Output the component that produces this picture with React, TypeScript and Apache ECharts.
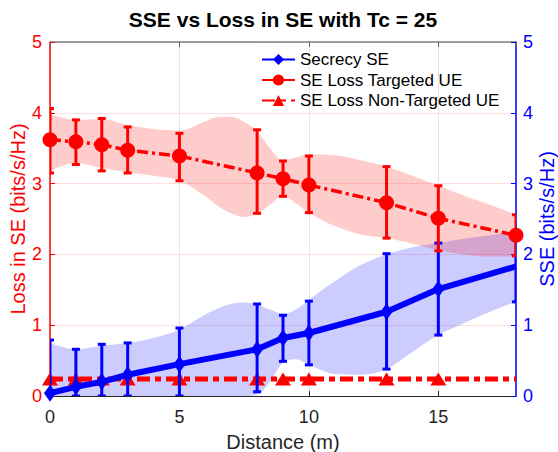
import React, { useEffect, useRef } from "react";
import * as echarts from "echarts";

// ---- data ----
const distance = [0, 1, 2, 3, 5, 8, 9, 10, 13, 15, 18];

const secrecySE = [0.04, 0.13, 0.2, 0.3, 0.45, 0.66, 0.82, 0.89, 1.19, 1.51, 1.83];
const secrecyErrLow = [0, 0, 0, 0, 0, 0.06, 0.49, 0.44, 0.38, 0.86, 1.33];
const secrecyErrHigh = [0.79, 0.66, 0.73, 0.75, 0.96, 1.3, 1.14, 1.34, 2.01, 2.16, 2.33];

const targetedLoss = [3.62, 3.59, 3.55, 3.47, 3.39, 3.15, 3.07, 2.98, 2.73, 2.51, 2.27];
const targetedErrLow = [3.15, 3.27, 3.18, 3.15, 3.04, 2.58, 2.82, 2.59, 2.23, 2.05, 1.98];
const targetedErrHigh = [4.06, 3.9, 3.92, 3.8, 3.71, 3.76, 3.32, 3.39, 3.24, 2.97, 2.56];

const nonTargetedLoss = [0.24, 0.24, 0.24, 0.24, 0.24, 0.24, 0.24, 0.24, 0.24, 0.24, 0.24];

// shaded band outlines (read along the distance axis)
const bandX = [0, 1, 2, 3, 4, 5, 6, 6.5, 7, 7.5, 8, 8.5, 9, 9.5, 10, 11, 12, 13, 14, 15, 16, 17, 18];
const redBandHigh = [3.98, 3.9, 3.91, 3.83, 3.77, 3.75, 3.88, 3.94, 3.94, 3.87, 3.74, 3.5, 3.33, 3.37, 3.41, 3.4, 3.33, 3.24, 3.11, 2.97, 2.83, 2.7, 2.56];
const redBandLow = [3.18, 3.29, 3.22, 3.16, 3.11, 3.04, 2.82, 2.68, 2.58, 2.53, 2.57, 2.7, 2.83, 2.72, 2.59, 2.4, 2.28, 2.23, 2.15, 2.06, 2.0, 1.97, 1.97];
const blueBandHigh = [0.75, 0.66, 0.71, 0.75, 0.82, 0.94, 1.15, 1.24, 1.3, 1.32, 1.29, 1.22, 1.16, 1.22, 1.36, 1.62, 1.85, 2.0, 2.1, 2.16, 2.22, 2.27, 2.32];
const blueBandLow = [0, 0, 0, 0, 0, 0, 0, 0, 0, 0, 0.02, 0.2, 0.47, 0.52, 0.44, 0.31, 0.3, 0.38, 0.62, 0.86, 1.03, 1.19, 1.33];

const yTicks = [0, 1, 2, 3, 4, 5];
const xTicks = [0, 5, 10, 15];

const FONT = "'Liberation Sans', Arial, Helvetica, sans-serif";
const RED = "#ff0000";
const BLUE = "#0000ff";

// band: stacked pair, value dimension put first so stacking acts on y
function bandSeries(id: string, low: number[], high: number[], color: string, yAxisIndex: number) {
  return [
    {
      type: "line",
      name: id + "-base",
      stack: id,
      yAxisIndex,
      data: bandX.map((x, i) => [low[i], x]),
      encode: { x: 1, y: 0 },
      symbol: "none",
      smooth: 0.35,
      lineStyle: { opacity: 0, width: 0 },
      silent: true,
      z: 1,
    },
    {
      type: "line",
      name: id + "-span",
      stack: id,
      yAxisIndex,
      data: bandX.map((x, i) => [high[i] - low[i], x]),
      encode: { x: 1, y: 0 },
      symbol: "none",
      smooth: 0.35,
      lineStyle: { opacity: 0, width: 0 },
      areaStyle: { color, opacity: 1 },
      silent: true,
      z: 1,
    },
  ];
}

function errorBars(id: string, lows: number[], highs: number[], color: string, yAxisIndex: number, z: number) {
  return {
    type: "custom",
    name: id,
    yAxisIndex,
    z,
    silent: true,
    clip: true,
    data: distance.map((x, i) => [x, lows[i], highs[i]]),
    encode: { x: 0, y: [1, 2] },
    renderItem: (params: any, api: any) => {
      const x = api.value(0);
      const lo = api.coord([x, api.value(1)]);
      const hi = api.coord([x, api.value(2)]);
      const hw = 4;
      const style = { stroke: color, lineWidth: 3 };
      return {
        type: "group",
        children: [
          { type: "line", shape: { x1: lo[0], y1: lo[1], x2: hi[0], y2: hi[1] }, style },
          { type: "line", shape: { x1: lo[0] - hw, y1: lo[1], x2: lo[0] + hw, y2: lo[1] }, style },
          { type: "line", shape: { x1: hi[0] - hw, y1: hi[1], x2: hi[0] + hw, y2: hi[1] }, style },
        ],
      };
    },
  };
}

export default function App() {
  const ref = useRef<HTMLDivElement>(null);

  useEffect(() => {
    if (!ref.current) return;
    document.body.style.margin = "0";
    const chart = echarts.init(ref.current, undefined, { renderer: "svg" });

    const option: any = {
      animation: false,
      backgroundColor: "#ffffff",
      textStyle: { fontFamily: FONT },
      graphic: [
        {
          type: "text",
          x: 283,
          y: 19,
          style: {
            text: "SSE vs Loss in SE with Tc = 25",
            fill: "#000000",
            fontSize: 21,
            fontWeight: "bold",
            fontFamily: FONT,
            align: "center",
            verticalAlign: "middle",
          },
        },
      ],
      legend: {
        orient: "vertical",
        left: 261,
        top: 51,
        padding: 0,
        itemWidth: 33,
        itemHeight: 14,
        itemGap: 3.5,
        textStyle: { fontSize: 17, color: "#000000", fontFamily: FONT, lineHeight: 17 },
        data: ["Secrecy SE", "SE Loss Targeted UE", "SE Loss Non-Targeted UE"],
      },
      grid: { left: 50, right: 42, top: 42, bottom: 56, containLabel: false, outerBoundsMode: "none" },
      xAxis: [
        {
          type: "value",
          position: "bottom",
          min: xTicks[0],
          max: 18,
          interval: 5,
          axisLine: { show: true, onZero: false, lineStyle: { color: "#262626", width: 1 } },
          axisTick: { show: true, inside: true, length: 5, lineStyle: { color: "#262626" } },
          axisLabel: { color: "#262626", fontSize: 18, margin: 12, showMaxLabel: false, fontFamily: FONT },
          splitLine: { show: true, lineStyle: { color: "#e6e6e6", width: 1 } },
          name: "Distance (m)",
          nameLocation: "middle",
          nameGap: 36,
          nameMoveOverlap: false,
          nameTextStyle: { color: "#262626", fontSize: 20, fontFamily: FONT },
        },
        {
          type: "value",
          position: "top",
          min: 0,
          max: 18,
          interval: 5,
          axisLine: { show: true, onZero: false, lineStyle: { color: "#808080", width: 1.5 } },
          axisTick: { show: true, inside: true, length: 5, lineStyle: { color: "#606060" } },
          axisLabel: { show: false },
          splitLine: { show: false },
        },
      ],
      yAxis: [
        {
          type: "value",
          position: "left",
          min: yTicks[0],
          max: yTicks[yTicks.length - 1],
          interval: 1,
          axisLine: { show: true, onZero: false, lineStyle: { color: RED, width: 1.5 } },
          axisTick: { show: true, inside: true, length: 5, lineStyle: { color: RED } },
          axisLabel: { color: RED, fontSize: 18, margin: 8, fontFamily: FONT },
          splitLine: { show: true, lineStyle: { color: "rgba(255,0,0,0.13)", width: 1 } },
          name: "Loss in SE (bits/s/Hz)",
          nameLocation: "middle",
          nameGap: 22,
          nameMoveOverlap: false,
          nameTextStyle: { color: RED, fontSize: 20, fontFamily: FONT },
        },
        {
          type: "value",
          position: "right",
          min: yTicks[0],
          max: yTicks[yTicks.length - 1],
          interval: 1,
          axisLine: { show: true, onZero: false, lineStyle: { color: BLUE, width: 1.5 } },
          axisTick: { show: true, inside: true, length: 5, lineStyle: { color: BLUE } },
          axisLabel: { color: BLUE, fontSize: 18, margin: 7, fontFamily: FONT },
          splitLine: { show: false },
          name: "SSE (bits/s/Hz)",
          nameLocation: "middle",
          nameGap: 21,
          nameMoveOverlap: false,
          nameTextStyle: { color: BLUE, fontSize: 20, fontFamily: FONT },
        },
      ],
      series: [
        ...bandSeries("blueBand", blueBandLow, blueBandHigh, "rgba(0,0,255,0.2)", 1),
        ...bandSeries("redBand", redBandLow, redBandHigh, "rgba(255,0,0,0.2)", 0),
        {
          type: "line",
          name: "SE Loss Non-Targeted UE",
          yAxisIndex: 0,
          z: 3,
          data: distance.map((x, i) =>
            i === distance.length - 1
              ? { value: [x, nonTargetedLoss[i]], symbol: "none" }
              : [x, nonTargetedLoss[i]]
          ),
          symbol: "triangle",
          symbolSize: [16, 13],
          itemStyle: { color: RED },
          lineStyle: { color: RED, width: 5, type: [13, 5, 6, 5] },
          clip: true,
        },
        errorBars("blueErr", secrecyErrLow, secrecyErrHigh, BLUE, 1, 4),
        {
          type: "line",
          name: "Secrecy SE",
          yAxisIndex: 1,
          z: 5,
          data: distance.map((x, i) =>
            i === distance.length - 1 ? { value: [x, secrecySE[i]], symbol: "none" } : [x, secrecySE[i]]
          ),
          symbol: "diamond",
          symbolSize: [12, 17],
          itemStyle: { color: BLUE },
          lineStyle: { color: BLUE, width: 6 },
          clip: true,
        },
        errorBars("redErr", targetedErrLow, targetedErrHigh, RED, 0, 6),
        {
          type: "line",
          name: "SE Loss Targeted UE",
          yAxisIndex: 0,
          z: 7,
          data: distance.map((x, i) => [x, targetedLoss[i]]),
          symbol: "circle",
          symbolSize: 15,
          itemStyle: { color: RED },
          lineStyle: { color: RED, width: 3.5, type: [11, 4, 3, 4] },
          clip: true,
        },
      ],
    };

    chart.setOption(option);
    return () => chart.dispose();
  }, []);

  return <div ref={ref} style={{ width: 558, height: 452 }} />;
}
